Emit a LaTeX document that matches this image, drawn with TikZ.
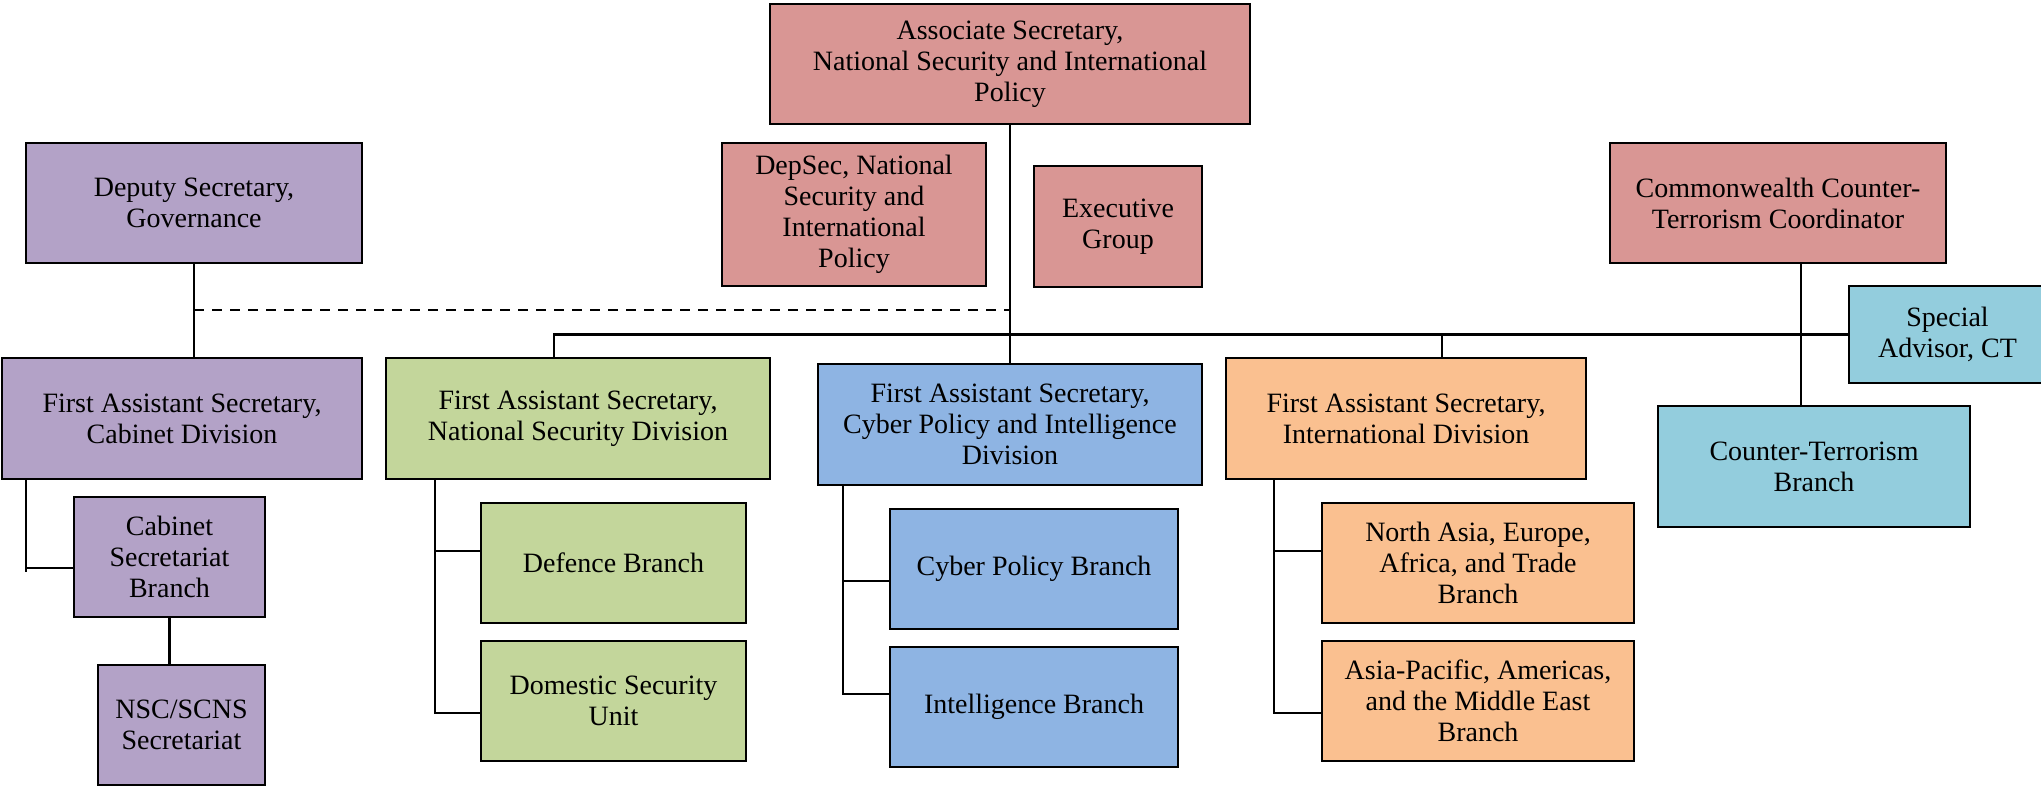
\documentclass[tikz,border=0pt]{standalone}
\usepackage{fontspec}
\setmainfont{Liberation Serif}
\usetikzlibrary{calc}
\definecolor{cpink}{HTML}{D99694}
\definecolor{cpurple}{HTML}{B3A2C7}
\definecolor{cgreen}{HTML}{C3D69B}
\definecolor{cblue}{HTML}{8EB4E3}
\definecolor{corange}{HTML}{FAC090}
\definecolor{cteal}{HTML}{93CDDD}
\begin{document}
\begin{tikzpicture}[x=1pt,y=-1pt,
  box/.style={draw=black,line width=2pt,align=center,inner sep=2pt,
    font=\fontsize{28}{31}\selectfont,text=black},
  conn/.style={line width=2.2pt,black,line join=miter}]
\clip (0,0) rectangle (2041,787);
\fill[white] (0,0) rectangle (2041,787);
% top row
\node[box,fill=cpink,minimum width=480pt,minimum height=120pt] (assoc) at (1010,64) {Associate Secretary,\\National Security and International\\Policy};
\node[box,fill=cpurple,minimum width=336pt,minimum height=120pt] (dep) at (194,203) {Deputy Secretary,\\Governance};
\node[box,fill=cpink,minimum width=264pt,minimum height=143pt] (depsec) at (854,214.5) {DepSec, National\\Security and\\International\\Policy};
\node[box,fill=cpink,minimum width=168pt,minimum height=121pt] (exec) at (1118,226.5) {Executive\\Group};
\node[box,fill=cpink,minimum width=336pt,minimum height=120pt] (cctc) at (1778,203) {Commonwealth Counter-\\Terrorism Coordinator};
\node[box,fill=cteal,minimum width=197pt,minimum height=97pt] (sa) at (1947.5,334.5) {Special\\Advisor, CT};
% division row
\node[box,fill=cpurple,minimum width=360pt,minimum height=121pt] (fascab) at (182,418.5) {First Assistant Secretary,\\Cabinet Division};
\node[box,fill=cgreen,minimum width=384pt,minimum height=121pt] (fasns) at (578,418.5) {First Assistant Secretary,\\National Security Division};
\node[box,fill=cblue,minimum width=384pt,minimum height=121pt] (fascy) at (1010,424.5) {First Assistant Secretary,\\Cyber Policy and Intelligence\\Division};
\node[box,fill=corange,minimum width=360pt,minimum height=121pt] (fasintl) at (1406,418.5) {First Assistant Secretary,\\International Division};
\node[box,fill=cteal,minimum width=312pt,minimum height=121pt] (ctbr) at (1814,466.5) {Counter-Terrorism\\Branch};
% branches
\node[box,fill=cpurple,minimum width=191pt,minimum height=120pt] (cabsec) at (169.5,557) {Cabinet\\Secretariat\\Branch};
\node[box,fill=cpurple,minimum width=167pt,minimum height=120pt] (nsc) at (181.5,725) {NSC/SCNS\\Secretariat};
\node[box,fill=cgreen,minimum width=265pt,minimum height=120pt] (defence) at (613.5,563) {Defence Branch};
\node[box,fill=cgreen,minimum width=265pt,minimum height=120pt] (domestic) at (613.5,701) {Domestic Security\\Unit};
\node[box,fill=cblue,minimum width=288pt,minimum height=120pt] (cyberpol) at (1034,569) {Cyber Policy Branch};
\node[box,fill=cblue,minimum width=288pt,minimum height=120pt] (intel) at (1034,707) {Intelligence Branch};
\node[box,fill=corange,minimum width=312pt,minimum height=120pt] (northasia) at (1478,563) {North Asia, Europe,\\Africa, and Trade\\Branch};
\node[box,fill=corange,minimum width=312pt,minimum height=120pt] (asiapac) at (1478,701) {Asia-Pacific, Americas,\\and the Middle East\\Branch};
% connectors
\draw[conn] (assoc.south) -- (fascy.north);
\draw[conn] (dep.south) -- (dep.south |- fascab.north);
\coordinate (dashL) at (194,310);
\draw[conn,dash pattern=on 10pt off 8pt] (dashL) -- (dashL -| assoc.south);
\coordinate (busL) at (554,334.5);
\coordinate (busI) at (1442,334.5);
\draw[conn] (fasns.north -| busL) -- (busL) -- (sa.west);
\draw[conn] (busI) -- (fasintl.north -| busI);
\coordinate (ctx) at (1801,0);
\draw[conn] (cctc.south -| ctx) -- (ctbr.north -| ctx);
% cabinet
\coordinate (cabx) at (26,0);
\path (cabsec.west) ++(0,11) coordinate (cabA);
\draw[conn] (fascab.south -| cabx) -- ($(cabA -| cabx)+(0,4)$);
\draw[conn] (cabA -| cabx) -- (cabA);
\draw[conn] (cabsec.south) -- (cabsec.south |- nsc.north);
% national security
\coordinate (nsx) at (435,0);
\path (defence.west) ++(0,-12) coordinate (dfA);
\path (domestic.west) ++(0,12) coordinate (dmA);
\draw[conn] (fasns.south -| nsx) -- (nsx |- dmA) -- (dmA);
\draw[conn] (nsx |- dfA) -- (dfA);
% cyber
\coordinate (cyx) at (843,0);
\path (cyberpol.west) ++(0,12) coordinate (cpA);
\path (intel.west) ++(0,-13) coordinate (inA);
\draw[conn] (fascy.south -| cyx) -- (cyx |- inA) -- (inA);
\draw[conn] (cyx |- cpA) -- (cpA);
% international
\coordinate (inx) at (1274,0);
\path (northasia.west) ++(0,-12) coordinate (naA);
\path (asiapac.west) ++(0,12) coordinate (apA);
\draw[conn] (fasintl.south -| inx) -- (inx |- apA) -- (apA);
\draw[conn] (inx |- naA) -- (naA);
\end{tikzpicture}
\end{document}
